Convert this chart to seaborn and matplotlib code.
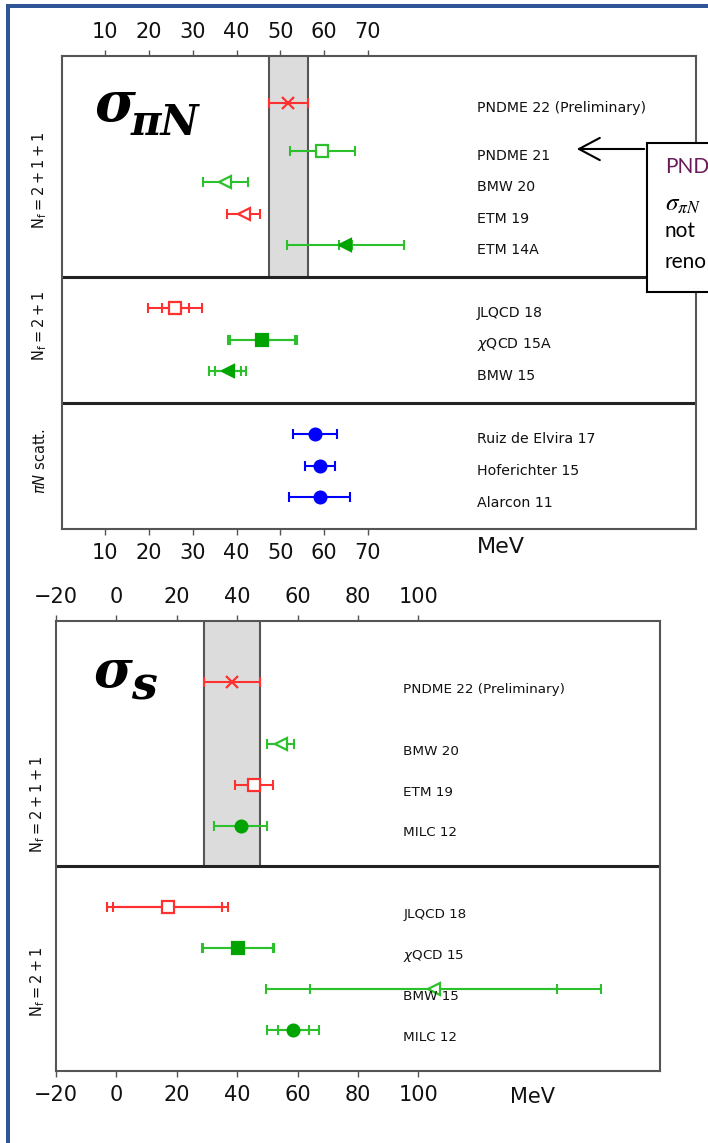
import numpy as np
import matplotlib
matplotlib.use("Agg")
import matplotlib.pyplot as plt
from matplotlib.patches import Rectangle, FancyArrowPatch
import matplotlib.transforms as mtransforms
import seaborn as sns

# ---------------- data: sigma_piN (MeV) ----------------
piN_labels = ["PNDME 22 (Preliminary)", "PNDME 21", "BMW 20", "ETM 19", "ETM 14A",
              "JLQCD 18", r"$\chi$QCD 15A", "BMW 15",
              "Ruiz de Elvira 17", "Hoferichter 15", "Alarcon 11"]
piN_values = [51.8, 59.6, 37.4, 41.6, 64.9, 26.0, 45.9, 38.0, 58.0, 59.1, 59.0]
piN_total_err = [4.5, 7.4, 5.1, 3.8, 13.3, 6.2, 7.9, 4.2, 5.0, 3.5, 7.0]
piN_stat_err = [np.nan, np.nan, np.nan, np.nan, 1.5, 3.0, 7.4, 3.0, np.nan, np.nan, np.nan]
piN_groups = [r"$\mathrm{N_f=2+1+1}$", r"$\mathrm{N_f=2+1}$", r"$\pi N$ scatt."]
piN_ticks = [10, 20, 30, 40, 50, 60, 70]

# ---------------- data: sigma_s (MeV) ----------------
s_labels = ["PNDME 22 (Preliminary)", "BMW 20", "ETM 19", "MILC 12",
            "JLQCD 18", r"$\chi$QCD 15", "BMW 15", "MILC 12"]
s_values = [38.4, 54.4, 45.6, 41.1, 17.0, 40.2, 105.0, 58.6]
s_total_err = [9.3, 4.4, 6.2, 8.9, 20.1, 12.0, 55.3, 8.6]
s_stat_err = [np.nan, np.nan, np.nan, np.nan, 18.0, 11.6, 41.0, 5.2]
s_groups = [r"$\mathrm{N_f=2+1+1}$", r"$\mathrm{N_f=2+1}$"]
s_ticks = [-20, 0, 20, 40, 60, 80, 100]

# visible part of the side note (cut at the slide edge in the reference)
note_lines = ["PND", r"$\sigma_{\pi N}$", "not", "reno"]

# ---------------- styles / layout ----------------
RED, GREEN, GREEN_D, BLUE = "#ff3030", "#2cc02c", "#00a400", "#0000ff"
piN_style = [("x", RED, None), ("s", GREEN, "open"), ("<", GREEN, "open"), ("<", RED, "open"),
             ("<", GREEN, "fill"), ("s", RED, "open"), ("s", GREEN, "fill"), ("<", GREEN, "fill"),
             ("o", BLUE, "fill"), ("o", BLUE, "fill"), ("o", BLUE, "fill")]
piN_rows = [13.5, 12, 11, 10, 9, 7, 6, 5, 3, 2, 1]
piN_group_y = [11.06, 6.43, 2.15]
s_style = [("x", RED, None), ("<", GREEN, "open"), ("s", RED, "open"), ("o", GREEN, "fill"),
           ("s", RED, "open"), ("s", GREEN, "fill"), ("<", GREEN, "open"), ("o", GREEN, "fill")]
s_rows = [9.5, 8, 7, 6, 4, 3, 2, 1]
s_group_y = [6.52, 2.17]

sns.set_theme(style="white")
plt.rcParams['font.family'] = ['DejaVu Sans']
plt.rcParams['axes.edgecolor'] = '#555555'

W, H = 708, 1143
fig = plt.figure(figsize=(W / 100, H / 100), dpi=100)


def px_axes(l, t, r, b):
    return fig.add_axes([l / W, 1 - b / H, (r - l) / W, (b - t) / H])


def draw_panel(ax, labels, vals, tot, stat, styles, rows, xlim, ylim, seps, ticks,
               label_x, label_dy, label_fs, groups, group_y, group_x):
    ax.set_xlim(*xlim)
    ax.set_ylim(*ylim)
    # band from first (preliminary) result
    lo, hi = vals[0] - tot[0], vals[0] + tot[0]
    ax.fill_betweenx([seps[0], ylim[1]], lo, hi, color="#dcdcdc", zorder=0, lw=0)
    ax.vlines([lo, hi], seps[0], ylim[1], color="#555555", lw=1.5, zorder=1)
    for s in seps:
        ax.axhline(s, color="#222222", lw=2.2, zorder=1)
    for v, e, st, (m, c, fill), y in zip(vals, tot, stat, styles, rows):
        mc = GREEN_D if (c == GREEN and fill == "fill") else c
        ax.errorbar(v, y, xerr=e, fmt="none", ecolor=c, elinewidth=1.5,
                    capsize=3.5, capthick=1.5, zorder=3)
        if not np.isnan(st):
            ax.errorbar(v, y, xerr=st, fmt="none", ecolor=c, elinewidth=1.5,
                        capsize=3.5, capthick=1.5, zorder=3)
        if m == "x":
            ax.plot(v, y, marker="x", ms=9, mew=1.6, color=c, ls="none", zorder=4)
        else:
            ax.plot(v, y, marker=m, ms=8.5 if m != "<" else 9, mew=1.6, mec=mc,
                    mfc=(mc if fill == "fill" else "white"), ls="none", zorder=4)
    for lab, y in zip(labels, rows):
        ax.text(label_x, y - label_dy, lab, fontsize=label_fs, ha="left", va="center",
                color="#111111", zorder=5)
    trans = mtransforms.blended_transform_factory(ax.transAxes, ax.transData)
    for g, y in zip(groups, group_y):
        ax.text(group_x, y, g, rotation=90, ha="center", va="center", fontsize=10.5,
                transform=trans, color="#111111")
    ax.set_yticks([])
    ax.set_xticks(ticks)
    ax.tick_params(axis="x", which="both", top=True, labeltop=True, bottom=True,
                   labelbottom=True, direction="out", length=4, width=1,
                   color="#555555", labelsize=15, labelcolor="#111111", pad=6)
    for sp in ax.spines.values():
        sp.set_linewidth(1.5)
        sp.set_color("#555555")


# top panel: sigma_piN
ax1 = px_axes(61.7, 56, 695.7, 529)
draw_panel(ax1, piN_labels, piN_values, piN_total_err, piN_stat_err, piN_style, piN_rows,
           (0, 145), (0, 15), [8, 4], piN_ticks, 95.0, 0.16, 10.2,
           piN_groups, piN_group_y, -0.034)
ax1.text(95.0, -0.038, "MeV", transform=mtransforms.blended_transform_factory(ax1.transData, ax1.transAxes),
         fontsize=16, ha="left", va="center", color="#111111")

# bottom panel: sigma_s
ax2 = px_axes(56, 621, 660, 1071)
draw_panel(ax2, s_labels, s_values, s_total_err, s_stat_err, s_style, s_rows,
           (-20, 180), (0, 11), [5], s_ticks, 95.0, 0.18, 9.7,
           s_groups, s_group_y, -0.03)
ax2.text(130.4, -0.058, "MeV", transform=mtransforms.blended_transform_factory(ax2.transData, ax2.transAxes),
         fontsize=15, ha="left", va="center", color="#111111")

# big sigma titles
fig.text(94 / W, 1 - 121 / H, "σ", fontsize=40, fontweight="bold", style="italic",
         family="DejaVu Serif", va="baseline", ha="left", color="black")
fig.text(131 / W, 1 - 135 / H, "πN", fontsize=30, fontweight="bold", style="italic",
         family="DejaVu Serif", va="baseline", ha="left", color="black")
fig.text(93 / W, 1 - 687 / H, "σ", fontsize=38, fontweight="bold", style="italic",
         family="DejaVu Serif", va="baseline", ha="left", color="black")
fig.text(131 / W, 1 - 700 / H, "s", fontsize=33, fontweight="bold", style="italic",
         family="DejaVu Serif", va="baseline", ha="left", color="black")

# slide frame (blue)
fig.add_artist(Rectangle((6 / W, 0), 4 / W, 1 - 4 / H, transform=fig.transFigure,
                         fc="#2f5597", ec="none", zorder=20))
fig.add_artist(Rectangle((6 / W, 1 - 8 / H), 1, 4 / H, transform=fig.transFigure,
                         fc="#2f5597", ec="none", zorder=20))

# note box with arrow
fig.add_artist(Rectangle((647 / W, 1 - 292 / H), 80 / W, (292 - 143) / H, transform=fig.transFigure,
                         fc="white", ec="black", lw=1.5, zorder=20))
fig.add_artist(FancyArrowPatch(posA=(647 / W, 1 - 149 / H), posB=(574 / W, 1 - 149 / H),
                               transform=fig.transFigure, arrowstyle="->,head_length=0.6,head_width=0.32",
                               mutation_scale=25, lw=1.5, color="black", zorder=21))
note_y = [167, 204, 231, 262]
note_col = ["#6a1b5a", "black", "black", "black"]
note_fs = [15, 18, 15, 15]
for t, y, c, fs in zip(note_lines, note_y, note_col, note_fs):
    fig.text(665 / W, 1 - y / H, t, fontsize=fs, family="Lato", color=c, va="center",
             ha="left", zorder=22, math_fontfamily="stix")

fig.savefig("out.png", dpi=100)
